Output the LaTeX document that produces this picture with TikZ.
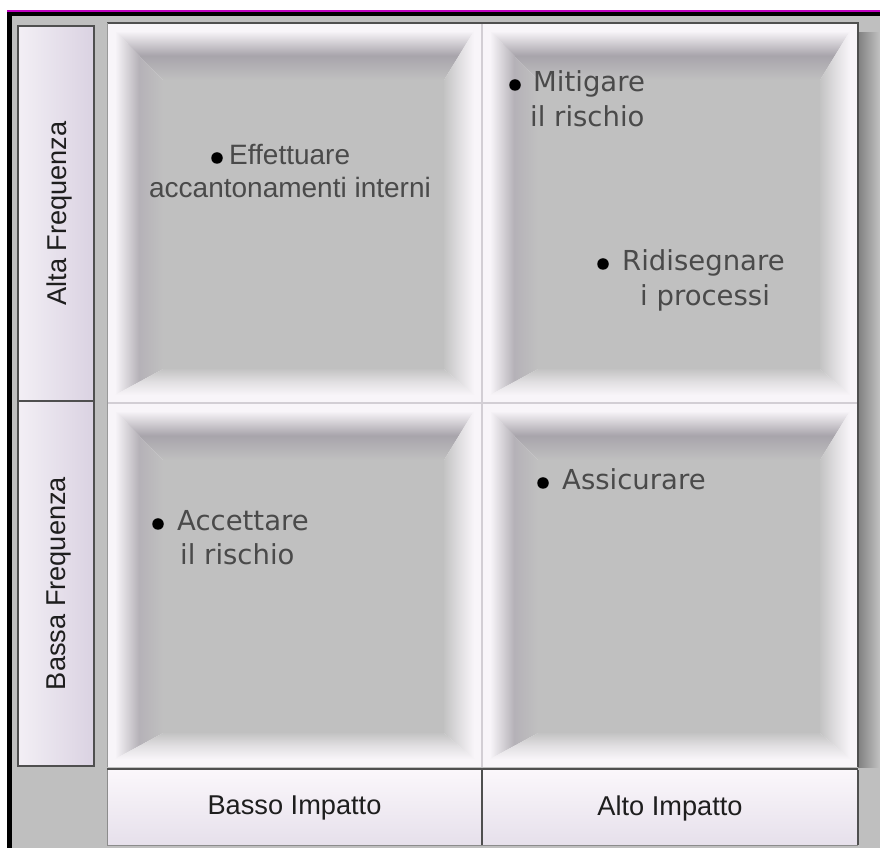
\documentclass[tikz,border=0pt]{standalone}
\usepackage{fontspec}
\setmainfont{DejaVu Sans}
\newfontfamily\arialf{Liberation Sans}
\definecolor{bggray}{HTML}{BFBFBF}
\definecolor{rimwhite}{HTML}{F8F5F9}
\definecolor{bevdark}{HTML}{A8A4AB}
\definecolor{flatgray}{HTML}{C0C0C0}
\definecolor{sepgray}{HTML}{D2CED4}
\definecolor{edgedark}{HTML}{4F4F4F}
\definecolor{itemgray}{HTML}{4A4A4A}
\definecolor{labelblack}{HTML}{1E1E1E}
\definecolor{lavL}{HTML}{F3EFF5}
\definecolor{lavR}{HTML}{DAD2E2}
\definecolor{lavT}{HTML}{FBF7FB}
\definecolor{lavB}{HTML}{E6E0EB}
\definecolor{magline}{HTML}{C000C0}
\tikzset{
  item/.style={anchor=base west, inner sep=0pt, text=itemgray, font=\fontsize{27.5}{33}\selectfont},
  itemar/.style={inner sep=0pt, text=itemgray, font=\arialf\fontsize{28}{33}\selectfont},
  axislabel/.style={inner sep=0pt, text=labelblack, font=\arialf\fontsize{27.2}{32}\selectfont},
  dotmark/.style={circle, fill=black, inner sep=0pt, minimum size=11.5pt},
  boxedge/.style={draw=edgedark, line width=2pt},
}
\newcommand\bevelcell[4]{%
  % #1=x0 #2=y0 #3=x1 #4=y1
  \fill[rimwhite] (#1,#2) rectangle (#3,#4);
  \shade[top color=rimwhite, bottom color=flatgray, middle color=bevdark]
    (#1+8,#4-8) -- (#3-8,#4-8) -- (#3-38,#4-57) -- (#1+56,#4-57) -- cycle;
  \shade[left color=rimwhite, right color=flatgray, middle color=bevdark!85!white]
    (#1+8,#4-8) -- (#1+56,#4-57) -- (#1+56,#2+34) -- (#1+8,#2+8) -- cycle;
  \shade[left color=flatgray!95!white, right color=rimwhite, middle color=flatgray!45!rimwhite]
    (#3-8,#4-8) -- (#3-8,#2+8) -- (#3-38,#2+34) -- (#3-38,#4-57) -- cycle;
  \shade[top color=flatgray!95!white, bottom color=rimwhite, middle color=flatgray!40!rimwhite]
    (#1+8,#2+8) -- (#3-8,#2+8) -- (#3-38,#2+34) -- (#1+56,#2+34) -- cycle;
  \fill[flatgray] (#1+56,#2+34) rectangle (#3-38,#4-57);
}
\begin{document}
\begin{tikzpicture}[x=1pt,y=1pt]
\useasboundingbox (0,0) rectangle (880,848);
\fill[white] (0,0) rectangle (880,848);
\fill[bggray] (12,0) rectangle (880,832);
\fill[black] (7,0) rectangle (12,836);
\fill[black] (7,832) rectangle (880,836);
\fill[magline] (7,836) rectangle (880,837.6);
% shadow right of grid
\shade[left color=black!50, right color=bggray] (858,80) rectangle (879,815);
% cells
\bevelcell{107}{445}{482}{825}
\bevelcell{482}{445}{858}{825}
\bevelcell{107}{81}{482}{445}
\bevelcell{482}{81}{858}{445}
\draw[sepgray, line width=1.2pt] (482,81) -- (482,825);
\draw[sepgray, line width=1.2pt] (107,445) -- (858,445);
\draw[edgedark, line width=1.6pt] (107,825) -- (858,825) -- (858,81);
\draw[black!40, line width=1pt] (107,81) -- (107,825);
% left column
\shade[left color=lavL, right color=lavR] (18,82) rectangle (94,822);
\draw[boxedge] (18,82) rectangle (94,822);
\draw[boxedge] (18,447) -- (94,447);
\node[axislabel, rotate=90] (altaf) at (59,634.5) {Alta Frequenza};
\node[axislabel, rotate=90] (bassaf) at (59,264.5) {Bassa Frequenza};
% bottom row
\shade[top color=lavT, bottom color=lavB] (107,3) rectangle (858,78);
\draw[black!45, line width=1pt] (107,78) -- (107,3) -- (858,3);
\draw[edgedark, line width=1.5pt] (858,3) -- (858,78);
\draw[edgedark, line width=1.5pt] (482,3) -- (482,78);
\draw[edgedark, line width=2.5pt] (107,79) -- (858,79);
\node[axislabel] (bassoi) at (294.5,40) {Basso Impatto};
\node[axislabel] (altoi) at (670,40) {Alto Impatto};
% quadrant texts
\node[dotmark] (d1) at (217,690) {};
\node[itemar, anchor=base west] (eff) at (229,683) {Effettuare};
\node[itemar, anchor=base] (acc) at (290,650) {accantonamenti interni};
\node[dotmark] (d2) at (515,763) {};
\node[item] (mit) at (533,756) {Mitigare};
\node[item] (mit2) at (530,721) {il rischio};
\node[dotmark] (d3) at (603,584) {};
\node[item] (rid) at (622,577) {Ridisegnare};
\node[item] (rid2) at (640,542) {i processi};
\node[dotmark] (d4) at (543,365) {};
\node[item] (ass) at (562,358) {Assicurare};
\node[dotmark] (d5) at (158,324) {};
\node[item] (acct) at (177,317) {Accettare};
\node[item] (acct2) at (180,283) {il rischio};
\end{tikzpicture}
\end{document}
